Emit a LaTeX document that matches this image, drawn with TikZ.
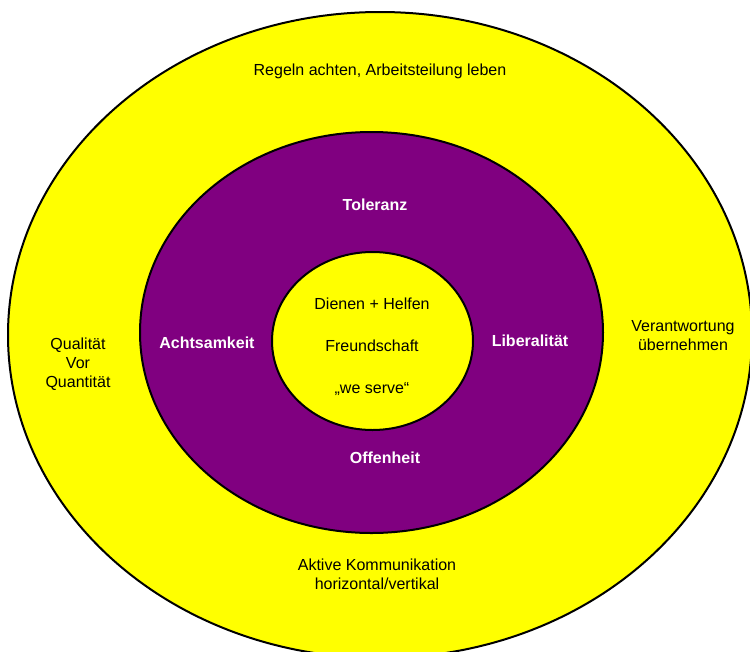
\documentclass[tikz,border=0pt]{standalone}
\usepackage{fontspec}
\setmainfont{Liberation Sans}
\usetikzlibrary{positioning}
\definecolor{ringyellow}{HTML}{FFFF00}
\definecolor{ringpurple}{HTML}{800080}

\begin{document}
\begin{tikzpicture}[x=1pt,y=-1pt,line width=2pt,node distance=25pt,
    every node/.style={font=\fontsize{16}{19}\selectfont,align=center,inner sep=0pt},
    outer/.style={text=black},
    value/.style={text=white,font=\fontsize{16}{19}\selectfont\bfseries},
    core/.style={text=black,text height=11.5pt,text depth=3.5pt}]

    \useasboundingbox (0,0) rectangle (750,651);
    \clip (0,0) rectangle (750,651);

    % rings
    \filldraw[fill=ringyellow] (380,335) ellipse [x radius=372, y radius=323];
    \filldraw[fill=ringpurple] (371.5,332.5) ellipse [x radius=231.5, y radius=200.5];
    \filldraw[fill=ringyellow] (372.5,341) ellipse [x radius=100.5, y radius=89];

    % outer ring
    \node[outer] (regeln) at (380,71) {Regeln achten, Arbeitsteilung leben};
    \node[outer] (qualitaet) at (78,364) {Qualität\\Vor\\Quantität};
    \node[outer] (verantw) at (683,336) {Verantwortung\\übernehmen};
    \node[outer] (kommun) at (377,574) {Aktive Kommunikation\\horizontal/vertikal};

    % middle ring
    \node[value] (toleranz) at (375,205) {Toleranz};
    \node[value] (achtsam) at (207,343) {Achtsamkeit};
    \node[value] (liberal) at (530,341) {Liberalität};
    \node[value] (offen) at (385,458) {Offenheit};

    % core
    \node[core] (freund) at (372,347) {Freundschaft};
    \node[core] (dienen) [above=of freund] {Dienen + Helfen};
    \node[core] (weserve) [below=of freund] {„we serve“};

\end{tikzpicture}
\end{document}
